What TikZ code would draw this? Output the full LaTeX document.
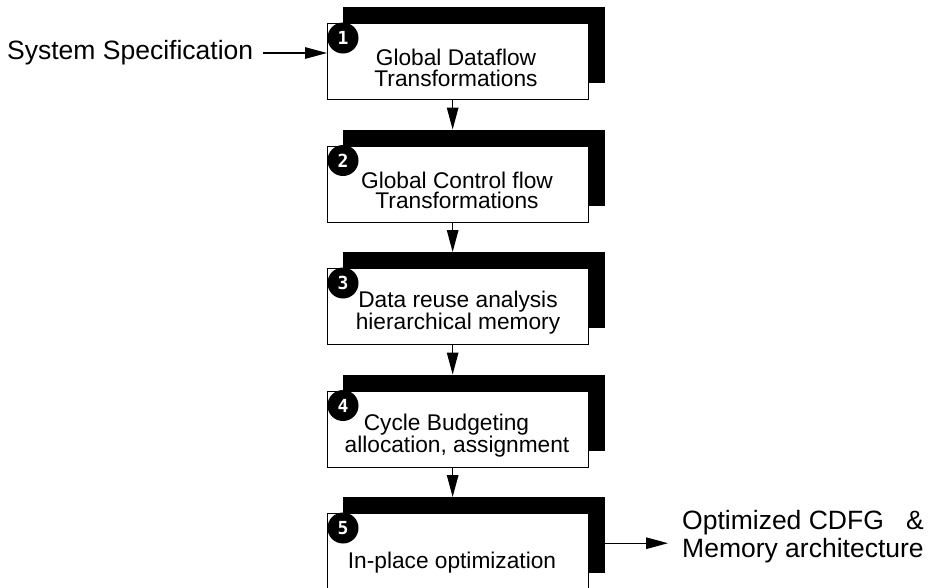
\documentclass[tikz,border=0pt]{standalone}
\usepackage{fontspec}
\setmainfont{Liberation Sans}
\newfontfamily\badgefont{DejaVu Sans Mono}
\usetikzlibrary{arrows.meta,calc}
\begin{document}
\begin{tikzpicture}[x=1pt,y=-1pt,
  shadowbox/.style={fill=black, draw=none, minimum width=262pt, minimum height=76pt, anchor=north west, inner sep=0pt},
  stepbox/.style={fill=white, draw=black, line width=1.3pt, minimum width=261pt, minimum height=76pt, anchor=north west, inner sep=0pt},
  badge/.style={circle, fill=black, minimum size=31pt, inner sep=0pt, text=white, font=\badgefont\bfseries\fontsize{18}{18}\selectfont},
  boxtext/.style={align=center, font=\fontsize{22.7}{20.5}\selectfont, inner sep=0pt},
  sidetext/.style={font=\fontsize{26.5}{28}\selectfont, inner sep=0pt},
  arr/.style={line width=1.3pt, -{Triangle[length=22pt,width=11.5pt]}}]
\clip (0,0) rectangle (932,587);
\fill[white] (0,0) rectangle (932,587);
% box 1
\node[shadowbox] (s1) at (343,7) {};
\node[stepbox] (b1) at (327,23) {};
\node[badge] (n1) at (343,38) {1};
\node[boxtext] (t1) at (456,68) {Global Dataflow\\Transformations};
% box 2
\node[shadowbox] (s2) at (343,129.5) {};
\node[stepbox] (b2) at (327,145.5) {};
\node[badge] (n2) at (343,160.5) {2};
\node[boxtext] (t2) at (457,190.5) {Global Control flow\\Transformations};
% box 3
\node[shadowbox] (s3) at (343,252) {};
\node[stepbox] (b3) at (327,268) {};
\node[badge] (n3) at (343,283) {3};
\node[boxtext] (t3) at (458,313) {Data reuse analysis\\hierarchical memory};
% box 4
\node[shadowbox] (s4) at (343,374.5) {};
\node[stepbox] (b4) at (327,390.5) {};
\node[badge] (n4) at (343,405.5) {4};
\node[boxtext] (t4) at (457,435.5) {Cycle Budgeting\hspace*{21pt}\\allocation, assignment};
% box 5
\node[shadowbox] (s5) at (343,497) {};
\node[stepbox] (b5) at (327,513) {};
\node[badge] (n5) at (343,528) {5};
\node[boxtext] (t5) at (452,563) {In-place optimization};
% arrows between boxes
\draw[arr] ([xshift=-5.5pt]b1.south) -- ([xshift=-5.5pt]b1.south |- s2.north);
\draw[arr] ([xshift=-5.5pt]b2.south) -- ([xshift=-5.5pt]b2.south |- s3.north);
\draw[arr] ([xshift=-5.5pt]b3.south) -- ([xshift=-5.5pt]b3.south |- s4.north);
\draw[arr] ([xshift=-5.5pt]b4.south) -- ([xshift=-5.5pt]b4.south |- s5.north);
% input
\node[sidetext, anchor=west] (spec) at (7,53) {System Specification};
\draw[arr] ([xshift=10pt]spec.east) -- (spec.east -| b1.west);
% output
\node[sidetext, anchor=west] (out) at (682,538)
  {\begin{tabular}{@{}l@{}}Optimized CDFG\hfill\&\\Memory architecture\end{tabular}};
\coordinate (oa) at ($(s5.east)+(0,8)$);
\draw[arr] (oa) -- ([xshift=-14pt]oa -| out.west);
\end{tikzpicture}
\end{document}
